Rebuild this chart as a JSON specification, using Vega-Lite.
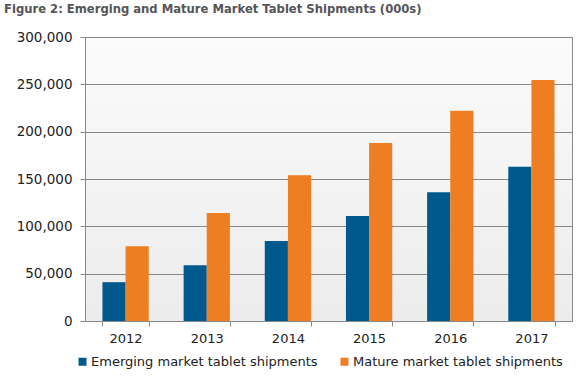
{
  "$schema": "https://vega.github.io/schema/vega-lite/v6.json",
  "width": 487,
  "height": 284,
  "autosize": {"type": "none"},
  "padding": {"left": 85, "top": 37, "right": 10, "bottom": 59},
  "background": "white",
  "title": {
    "text": "Figure 2: Emerging and Mature Market Tablet Shipments (000s)",
    "anchor": "start",
    "frame": "group",
    "dx": -81,
    "offset": 14,
    "font": "DejaVu Sans",
    "fontSize": 11.6,
    "fontWeight": "bold",
    "color": "#555555"
  },
  "config": {
    "font": "DejaVu Sans",
    "view": {
      "stroke": "#888888",
      "strokeWidth": 1,
      "fill": {
        "gradient": "linear",
        "x1": 0, "y1": 0, "x2": 0, "y2": 1,
        "stops": [{"offset": 0, "color": "#fbfbfb"}, {"offset": 1, "color": "#ececec"}]
      }
    }
  },
  "data": {
    "values": [
      {"year": "2012", "series": "Emerging market tablet shipments", "value": 41000},
      {"year": "2012", "series": "Mature market tablet shipments", "value": 79000},
      {"year": "2013", "series": "Emerging market tablet shipments", "value": 59000},
      {"year": "2013", "series": "Mature market tablet shipments", "value": 114000},
      {"year": "2014", "series": "Emerging market tablet shipments", "value": 84500},
      {"year": "2014", "series": "Mature market tablet shipments", "value": 154000},
      {"year": "2015", "series": "Emerging market tablet shipments", "value": 111000},
      {"year": "2015", "series": "Mature market tablet shipments", "value": 188000},
      {"year": "2016", "series": "Emerging market tablet shipments", "value": 136000},
      {"year": "2016", "series": "Mature market tablet shipments", "value": 222000},
      {"year": "2017", "series": "Emerging market tablet shipments", "value": 163000},
      {"year": "2017", "series": "Mature market tablet shipments", "value": 254500}
    ]
  },
  "mark": {"type": "bar"},
  "encoding": {
    "x": {
      "field": "year",
      "type": "nominal",
      "scale": {"paddingInner": 0.43, "paddingOuter": 0.215},
      "axis": {
        "title": null,
        "labelAngle": 0,
        "labelFontSize": 13,
        "labelColor": "#222222",
        "labelPadding": 6,
        "domainColor": "#888888",
        "tickColor": "#888888",
        "tickSize": 5,
        "tickBand": "extent",
        "grid": false
      }
    },
    "xOffset": {"field": "series", "type": "nominal", "scale": {"paddingInner": 0, "paddingOuter": 0}},
    "y": {
      "field": "value",
      "type": "quantitative",
      "scale": {"domain": [0, 300000], "nice": false},
      "axis": {
        "title": null,
        "values": [0, 50000, 100000, 150000, 200000, 250000, 300000],
        "format": ",d",
        "labelFontSize": 13.5,
        "labelColor": "#222222",
        "labelPadding": 8,
        "domainColor": "#888888",
        "tickColor": "#888888",
        "tickSize": 5,
        "gridColor": "#888888",
        "gridOpacity": 1
      }
    },
    "color": {
      "field": "series",
      "type": "nominal",
      "scale": {"range": ["#00598c", "#ef7d22"]},
      "legend": {
        "title": null,
        "orient": "none",
        "direction": "horizontal",
        "legendX": -9,
        "legendY": 318,
        "symbolType": "square",
        "symbolSize": 64,
        "symbolStrokeWidth": 0,
        "symbolOpacity": 1,
        "labelFontSize": 13,
        "labelColor": "#222222",
        "labelOffset": 2,
        "columnPadding": 20,
        "labelLimit": 300
      }
    }
  }
}
